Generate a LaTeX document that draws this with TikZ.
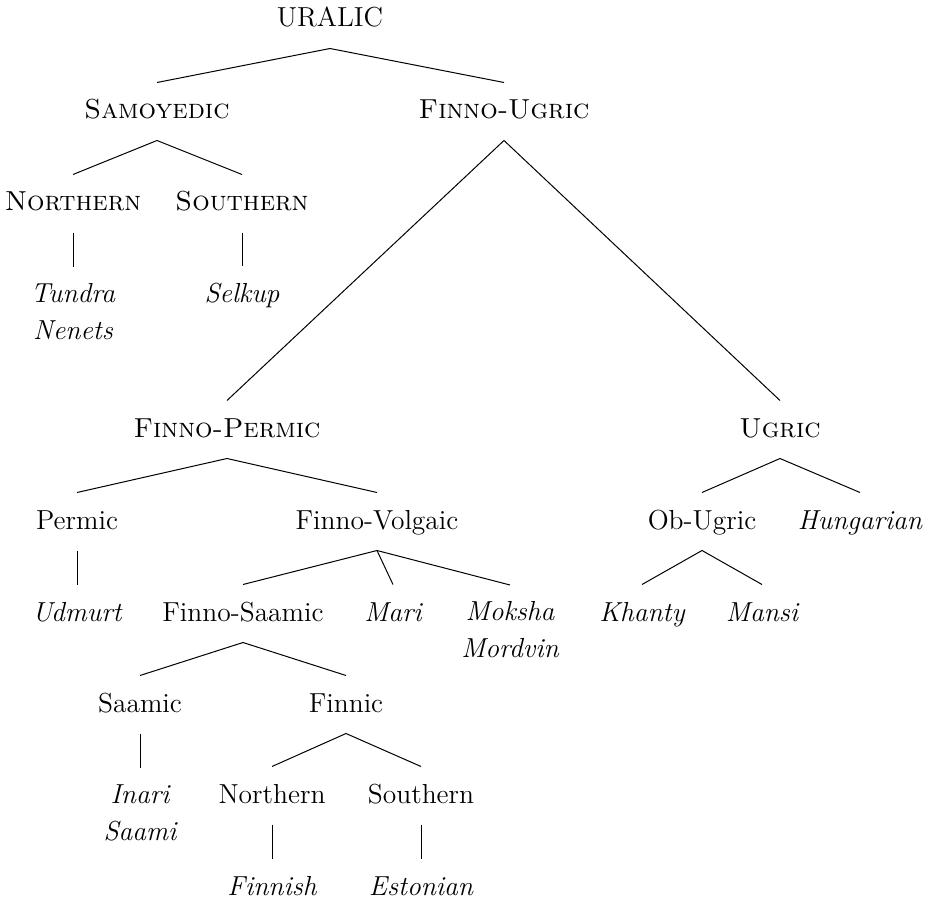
\documentclass[tikz,border=0pt]{standalone}
\begin{document}
\begin{tikzpicture}[x=0.4pt,y=-0.4pt,
  every node/.style={font=\fontsize{11}{14.8}\selectfont, inner xsep=0pt, inner ysep=6.4pt},
  lbl/.style={anchor=base, text height=8pt, text depth=2pt},
  it/.style={font=\fontsize{11}{14.8}\selectfont\itshape},
  ml/.style={anchor=north, align=center, it},
  branch/.style={line width=0.4pt}]
\useasboundingbox (0,0) rectangle (926,899);
% nodes
\node[lbl] (ur) at (330,27) {URALIC};
\node[lbl] (sam) at (157,119) {\textsc{Samoyedic}};
\node[lbl] (fu) at (504,119) {\textsc{Finno-Ugric}};
\node[lbl] (nor) at (73,211) {\textsc{Northern}};
\node[lbl] (sou) at (242,211) {\textsc{Southern}};
\node[ml] (tn) at (73,267) {Tundra\\Nenets};
\node[lbl,it] (sel) at (242,302) {Selkup};
\node[lbl] (fp) at (227,437) {\textsc{Finno-Permic}};
\node[lbl] (ug) at (780,437) {\textsc{Ugric}};
\node[lbl] (perm) at (77,529) {Permic};
\node[lbl] (fv) at (377,529) {Finno-Volgaic};
\node[lbl] (obu) at (702,529) {Ob-Ugric};
\node[lbl,it] (hun) at (860,529) {Hungarian};
\node[lbl,it] (udm) at (77,621) {Udmurt};
\node[lbl] (fs) at (243,621) {Finno-Saamic};
\node[lbl,it] (mari) at (393,621) {Mari};
\node[ml] (mm) at (510,585) {Moksha\\Mordvin};
\node[lbl,it] (kha) at (642,621) {Khanty};
\node[lbl,it] (man) at (762,621) {Mansi};
\node[lbl] (saa) at (140,712) {Saamic};
\node[lbl] (fin) at (346,712) {Finnic};
\node[ml] (is) at (140,768) {Inari\\Saami};
\node[lbl] (fnor) at (272,803) {Northern};
\node[lbl] (fsou) at (421,803) {Southern};
\node[lbl,it] (fish) at (272,895) {Finnish};
\node[lbl,it] (est) at (421,895) {Estonian};
% branches
\draw[branch] (sam.north) -- (ur.south) -- (fu.north);
\draw[branch] (nor.north) -- (sam.south) -- (sou.north);
\draw[branch] (nor.south) -- (tn.north);
\draw[branch] (sou.south) -- (sel.north);
\draw[branch] (fp.north) -- (fu.south) -- (ug.north);
\draw[branch] (perm.north) -- (fp.south) -- (fv.north);
\draw[branch] (perm.south) -- (udm.north);
\draw[branch] (fs.north) -- (fv.south) -- (mm.north);
\draw[branch] (fv.south) -- (mari.north);
\draw[branch] (saa.north) -- (fs.south) -- (fin.north);
\draw[branch] (saa.south) -- (is.north);
\draw[branch] (fnor.north) -- (fin.south) -- (fsou.north);
\draw[branch] (fnor.south) -- (fish.north);
\draw[branch] (fsou.south) -- (est.north);
\draw[branch] (obu.north) -- (ug.south) -- (hun.north);
\draw[branch] (kha.north) -- (obu.south) -- (man.north);
\end{tikzpicture}
\end{document}
